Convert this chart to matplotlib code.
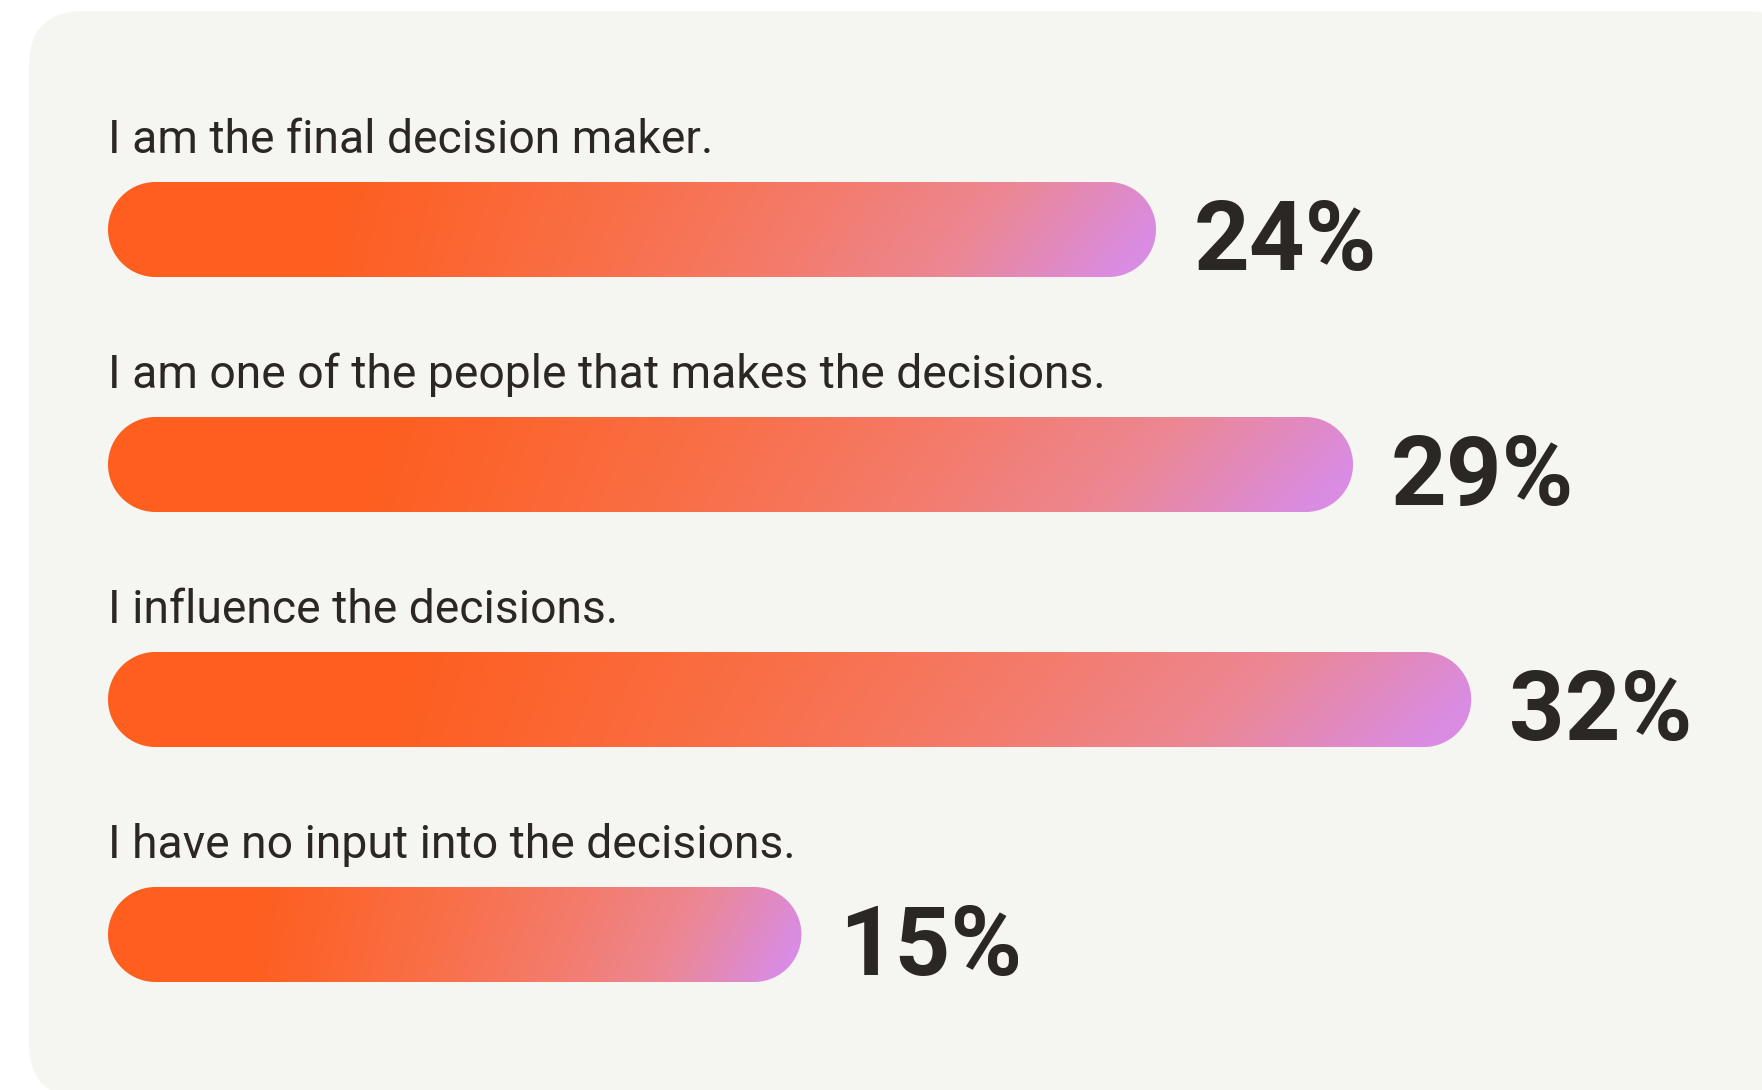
import numpy as np
import matplotlib
matplotlib.use("Agg")
import matplotlib.pyplot as plt
from matplotlib.patches import FancyBboxPatch, Polygon
from matplotlib.colors import LinearSegmentedColormap

# Survey answers, top to bottom
answers = [
    "I am the final decision maker.",
    "I am one of the people that makes the decisions.",
    "I influence the decisions.",
    "I have no input into the decisions.",
]
shares = [24, 29, 32, 15]  # percent of respondents

W, H = 1762, 1090
fig = plt.figure(figsize=(W / 100, H / 100), dpi=100)
fig.patch.set_facecolor("white")

# light card behind everything, laid out in pixels
bg = fig.add_axes([0, 0, 1, 1])
bg.set_xlim(0, W)
bg.set_ylim(H, 0)
bg.axis("off")
card = FancyBboxPatch((29, 11), 1800 - 29, 1098 - 11,
                      boxstyle="round,pad=0,rounding_size=55",
                      fc="#F5F5F1", ec="none")
bg.add_patch(card)

# data axes: x in percent, y in row index
px_per_pct = 39.4
px_per_row = 235.0
pad = 2.6          # bar cap extends past zero
left_px = 108
row0_px = 229.5
xmin = -pad - left_px / px_per_pct
xmax = xmin + W / px_per_pct
ymin = -row0_px / px_per_row
ymax = ymin + H / px_per_row

ax = fig.add_axes([0, 0, 1, 1])
ax.set_xlim(xmin, xmax)
ax.set_ylim(ymax, ymin)
ax.axis("off")
ax.patch.set_alpha(0)

cmap = LinearSegmentedColormap.from_list("bar", [
    (0.00, "#FF5E1E"),
    (0.22, "#FE5F21"),
    (0.47, "#F96F47"),
    (0.66, "#F47B6B"),
    (0.83, "#EC8794"),
    (1.00, "#D98CE2"),
])

bar_h = 95 / px_per_row
rx = (95 / 2) / px_per_pct   # cap radius in x units
ry = bar_h / 2               # cap radius in y units
text_col = "#2B2724"


def pill(x0, x1, yc):
    t = np.linspace(-np.pi / 2, np.pi / 2, 60)
    right = np.column_stack([x1 - rx + rx * np.cos(t), yc + ry * np.sin(t)])
    left = np.column_stack([x0 + rx - rx * np.cos(t), yc - ry * np.sin(t)])
    return np.vstack([right, left])


for i, (label, v) in enumerate(zip(answers, shares)):
    x0, x1 = -pad, v
    y0, y1 = i - bar_h / 2, i + bar_h / 2
    shape = Polygon(pill(x0, x1, i), closed=True, fc="none", ec="none")
    ax.add_patch(shape)
    gx = np.linspace(0, 1, 400)
    gy = np.linspace(0, 1, 40)
    gxx, gyy = np.meshgrid(gx, gy)
    grad = np.clip(gxx + 0.08 * (gyy - 0.5) * gxx, 0, 1)
    im = ax.imshow(grad, cmap=cmap, vmin=0, vmax=1, aspect="auto",
                   extent=(x0, x1, y1, y0), origin="upper",
                   interpolation="bilinear")
    im.set_clip_path(shape)

    ax.text(x0, i - (row0_px - 153) / px_per_row, label,
            fontsize=33.3, family="Roboto", color=text_col,
            ha="left", va="baseline")
    ax.text(v + 38 / px_per_pct, i + 40.5 / px_per_row, f"{v}%",
            fontsize=70, family="Roboto", fontweight="bold",
            color=text_col, ha="left", va="baseline")

fig.savefig("out.png", dpi=100, facecolor=fig.get_facecolor())
